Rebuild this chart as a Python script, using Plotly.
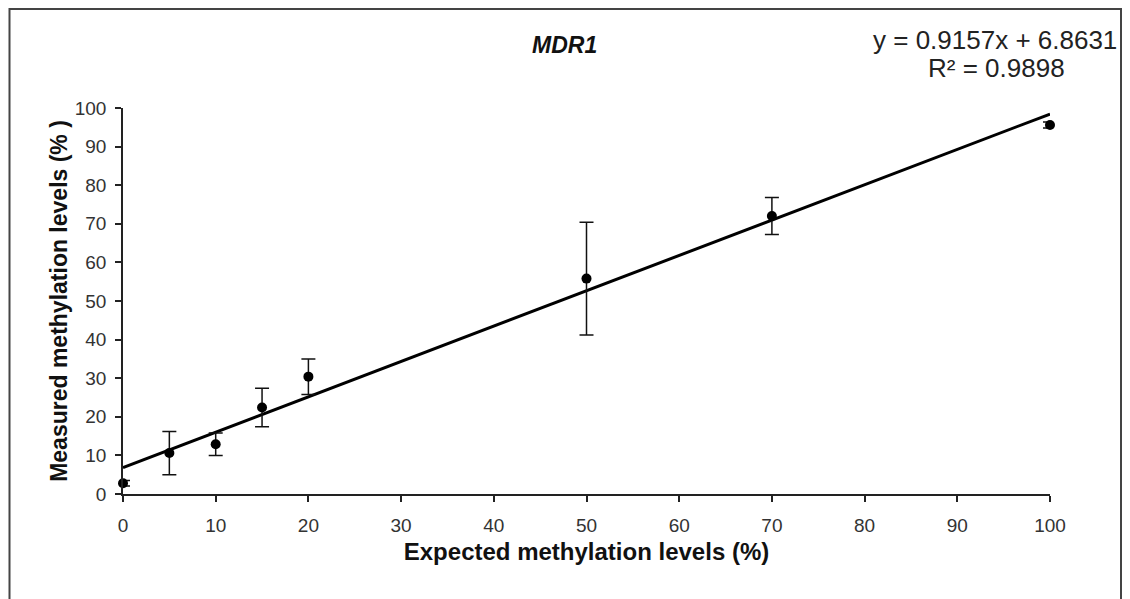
import plotly.graph_objects as go

# Data
expected = [0, 5, 10, 15, 20, 50, 70, 100]
measured = [2.8, 10.6, 12.9, 22.4, 30.4, 55.8, 72.0, 95.6]
errors = [0.7, 5.6, 2.9, 5.0, 4.6, 14.6, 4.8, 0.8]
slope = 0.9157
intercept = 6.8631
r2 = 0.9898
trend_x = [0, 100]
trend_y = [slope * v + intercept for v in trend_x]
x_ticks = list(range(0, 101, 10))
y_ticks = list(range(0, 101, 10))

# page has an 8px body margin
W, H = 1122, 591
L, R, T, B = 115, 80, 100, 105
pw = W - L - R
ph = H - T - B

# helpers mapping screen (reference) pixels to paper coords
def px(xp):
    return (xp - 8 - L) / pw

def py(yp):
    return (H - B - (yp - 8)) / ph

FONT = "Liberation Sans, Arial, sans-serif"

fig = go.Figure()
fig.add_trace(go.Scatter(
    x=trend_x, y=trend_y, mode="lines",
    line=dict(color="black", width=3),
    cliponaxis=False, showlegend=False, hoverinfo="skip"))
fig.add_trace(go.Scatter(
    x=expected, y=measured, mode="markers",
    marker=dict(color="black", size=10, symbol="circle"),
    error_y=dict(type="data", array=errors, visible=True,
                 color="#111111", thickness=1.5, width=7),
    cliponaxis=False, showlegend=False))

fig.update_layout(
    width=W, height=H,
    margin=dict(l=L, r=R, t=T, b=B),
    paper_bgcolor="white", plot_bgcolor="white",
    font=dict(family=FONT, color="#222222"),
    xaxis=dict(range=[0, 100], tickvals=x_ticks, showgrid=False, zeroline=False,
               showline=True, linecolor="#222222", linewidth=1.5,
               ticks="outside", ticklen=6, tickwidth=1.5, tickcolor="#222222",
               tickfont=dict(size=19, family=FONT, color="#333333"),
               ticklabelstandoff=7,
               title=dict(text="<b>Expected methylation levels (%)</b>",
                          font=dict(size=24, family=FONT, color="#111111"),
                          standoff=9)),
    yaxis=dict(range=[0, 100], tickvals=y_ticks, showgrid=False, zeroline=False,
               showline=True, linecolor="#222222", linewidth=1.5,
               ticks="outside", ticklen=6, tickwidth=1.5, tickcolor="#222222",
               tickfont=dict(size=19, family=FONT, color="#333333"),
               ticklabelstandoff=5,
               title=dict(text="<b>Measured methylation levels (% )</b>",
                          font=dict(size=23, family=FONT, color="#111111"),
                          standoff=1)),
)

fig.add_annotation(x=px(564), y=py(45), xref="paper", yref="paper",
                   xanchor="center", yanchor="middle",
                   text="<b><i>MDR1</i></b>", showarrow=False,
                   font=dict(size=23, family=FONT, color="#111111"))
fig.add_annotation(x=px(995), y=py(40), xref="paper", yref="paper",
                   xanchor="center", yanchor="middle",
                   text=f"y = {slope}x + {intercept}", showarrow=False,
                   font=dict(size=26, family=FONT, color="#222222"))
fig.add_annotation(x=px(996), y=py(68), xref="paper", yref="paper",
                   xanchor="center", yanchor="middle",
                   text=f"R² = {r2}", showarrow=False,
                   font=dict(size=26, family=FONT, color="#222222"))

fig.add_shape(type="rect", xref="paper", yref="paper",
              x0=px(9.5), x1=px(1121), y0=py(640), y1=py(9),
              line=dict(color="#444444", width=2), layer="below")

fig.write_html("out.html")
